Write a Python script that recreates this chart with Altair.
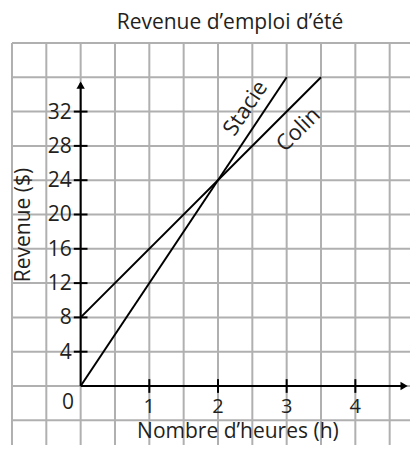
import altair as alt
import pandas as pd

# ---- data ----
stacie_hours = [0, 3]
stacie_revenue = [0, 36]
colin_hours = [0, 3.5]
colin_revenue = [8, 36]

x_tick_values = [1, 2, 3, 4]
x_tick_labels = ["1", "2", "3", "4"]
y_tick_values = [4, 8, 12, 16, 20, 24, 28, 32]
y_tick_labels = ["4", "8", "12", "16", "20", "24", "28", "32"]

x_grid_values = [-1, -0.5, 0, 0.5, 1, 1.5, 2, 2.5, 3, 3.5, 4, 4.5, 5]
y_grid_values = [-8, -4, 0, 4, 8, 12, 16, 20, 24, 28, 32, 36, 40]

title_text = "Revenue d\u2019emploi d\u2019\u00e9t\u00e9"
x_title_text = "Nombre d\u2019heures (h)"
y_title_text = "Revenue ($)"
series_names = ["Stacie", "Colin"]

FONT = "Open Sans"
FS = 21
TXT = "#231f20"
W, H = 402, 437
XD = [-1.058, 4.796]
YD = [-6.88, 44.08]
xs = alt.Scale(domain=XD, nice=False, zero=False)
ys = alt.Scale(domain=YD, nice=False, zero=False)
GRID = "#b0b0b0"

def X(field):
    return alt.X(field, type="quantitative", scale=xs, axis=None)

def Y(field):
    return alt.Y(field, type="quantitative", scale=ys, axis=None)

# grid
vgrid = pd.DataFrame({"x": x_grid_values, "y1": -12, "y2": 40})
hgrid = pd.DataFrame({"y": y_grid_values, "x1": -1, "x2": 5})
vg = alt.Chart(vgrid).mark_rule(color=GRID, strokeWidth=2, clip=True).encode(
    x=X("x"), y=Y("y1"), y2="y2")
hg = alt.Chart(hgrid).mark_rule(color=GRID, strokeWidth=2, clip=True).encode(
    y=Y("y"), x=X("x1"), x2="x2")

# axes
axes_df = pd.DataFrame({"x1": [0, 0], "y1": [0, 0], "x2": [0, 4.70], "y2": [35.3, 0]})
axes = alt.Chart(axes_df).mark_rule(color="black", strokeWidth=2).encode(
    x=X("x1"), y=Y("y1"), x2="x2", y2="y2")
arrow_up = alt.Chart(pd.DataFrame({"x": [0], "y": [35.1]})).mark_point(
    shape="triangle-up", filled=True, color="black", size=70, opacity=1).encode(x=X("x"), y=Y("y"))
arrow_right = alt.Chart(pd.DataFrame({"x": [4.71], "y": [0]})).mark_point(
    shape="triangle-right", filled=True, color="black", size=70, opacity=1).encode(x=X("x"), y=Y("y"))

# ticks
xt = pd.DataFrame({"x": x_tick_values, "y1": -0.8, "y2": 0.8, "ly": -2.4, "label": x_tick_labels})
yt = pd.DataFrame({"y": y_tick_values, "x1": -0.1, "x2": 0.1, "label": y_tick_labels})
xticks = alt.Chart(xt).mark_rule(color="black", strokeWidth=2).encode(x=X("x"), y=Y("y1"), y2="y2")
yticks = alt.Chart(yt).mark_rule(color="black", strokeWidth=2).encode(y=Y("y"), x=X("x1"), x2="x2")
xlabels = alt.Chart(xt).mark_text(font=FONT, fontSize=20, color=TXT, baseline="middle").encode(
    x=X("x"), y=Y("ly"), text="label")
ylabels = alt.Chart(yt).mark_text(font=FONT, fontSize=FS, color=TXT, align="right", baseline="middle", dx=-9, dy=1).encode(
    x=alt.value(W * (0 - XD[0]) / (XD[1] - XD[0])), y=Y("y"), text="label")
zero = alt.Chart(pd.DataFrame({"x": [-0.185], "y": [-2.0], "t": ["0"]})).mark_text(
    font=FONT, fontSize=FS, color=TXT, baseline="middle").encode(x=X("x"), y=Y("y"), text="t")

# lines
lines_df = pd.DataFrame({
    "h": stacie_hours + colin_hours,
    "r": stacie_revenue + colin_revenue,
    "who": [series_names[0]] * 2 + [series_names[1]] * 2,
})
lines = alt.Chart(lines_df).mark_line(color="black", strokeWidth=2).encode(
    x=X("h"), y=Y("r"), detail="who")

stacie_lbl = alt.Chart(pd.DataFrame({"x": [2.40], "y": [32.4], "t": [series_names[0]]})).mark_text(
    font=FONT, fontSize=22, color=TXT, angle=304, baseline="middle").encode(x=X("x"), y=Y("y"), text="t")
colin_lbl = alt.Chart(pd.DataFrame({"x": [3.17], "y": [29.9], "t": [series_names[1]]})).mark_text(
    font=FONT, fontSize=22, color=TXT, angle=315, baseline="middle").encode(x=X("x"), y=Y("y"), text="t")

# titles
title = alt.Chart(pd.DataFrame({"x": [2.175], "y": [42.3], "t": [title_text]})).mark_text(
    font=FONT, fontSize=21, color=TXT, baseline="middle").encode(x=X("x"), y=Y("y"), text="t")
xtitle = alt.Chart(pd.DataFrame({"x": [2.29], "y": [-5.35], "t": [x_title_text]})).mark_text(
    font=FONT, fontSize=21, color=TXT, baseline="middle").encode(x=X("x"), y=Y("y"), text="t")
ytitle = alt.Chart(pd.DataFrame({"x": [-0.82], "y": [18.78], "t": [y_title_text]})).mark_text(
    font=FONT, fontSize=21, color=TXT, angle=270, baseline="middle").encode(x=X("x"), y=Y("y"), text="t")

chart = alt.layer(
    vg, hg, axes, arrow_up, arrow_right, xticks, yticks, lines,
    xlabels, ylabels, zero, stacie_lbl, colin_lbl, title, xtitle, ytitle,
).properties(
    width=W, height=H, autosize=alt.AutoSizeParams(type="none"), padding=0,
).configure(background="white").configure_view(stroke=None)

chart.save("out.html", embed_options={"renderer": "svg", "actions": False})
